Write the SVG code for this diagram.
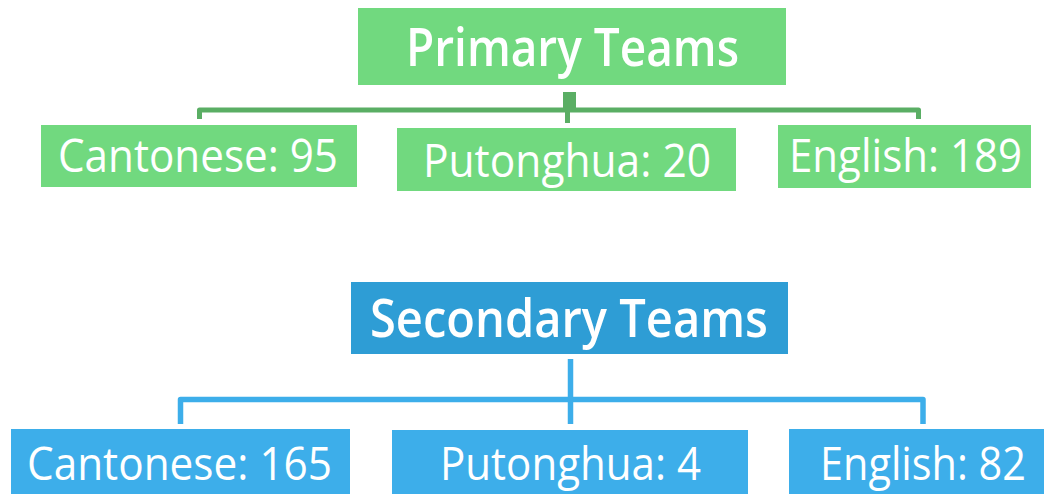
<svg xmlns="http://www.w3.org/2000/svg" width="1048" height="494" viewBox="0 0 1048 494">
<style>
.g{fill:#71D97F}
.b1{fill:#2E9DD5}
.b2{fill:#3DAEEA}
text{fill:#ffffff;font-family:"Open Sans","Noto Sans","DejaVu Sans",sans-serif}
.h{font-size:52px;font-weight:600}
.t{font-size:46px;font-weight:400}
.cg{stroke:#5AAE64;stroke-width:5;fill:none;stroke-linejoin:round}
.cb{stroke:#3DAEEA;stroke-width:5.5;fill:none;stroke-linejoin:round}
</style>
<rect width="1048" height="494" fill="#ffffff"/>
<g id="connectors">
<path class="cg" d="M199.5,119 V110 H918.5 V119"/>
<path class="cg" d="M567.5,110 V123"/>
<rect x="563" y="92" width="13" height="16" fill="#5AAE64"/>
<path class="cb" d="M180.5,424 V399.5 H923 V424"/>
<path class="cb" d="M570.5,359 V424"/>
</g>
<g id="primary">
<rect class="g" x="358" y="8" width="428" height="77"/>
<text class="h" x="406" y="66" textLength="333" lengthAdjust="spacingAndGlyphs">Primary Teams</text>
</g>
<g id="p-cantonese">
<rect class="g" x="41" y="125" width="316" height="62"/>
<text class="t" x="58" y="172" textLength="280" lengthAdjust="spacingAndGlyphs">Cantonese: 95</text>
</g>
<g id="p-putonghua">
<rect class="g" x="397" y="128" width="339" height="63"/>
<text class="t" x="423" y="176.5" textLength="288" lengthAdjust="spacingAndGlyphs">Putonghua: 20</text>
</g>
<g id="p-english">
<rect class="g" x="778" y="125" width="253" height="63"/>
<text class="t" x="789" y="172" textLength="233" lengthAdjust="spacingAndGlyphs">English: 189</text>
</g>
<g id="secondary">
<rect class="b1" x="351" y="282" width="437" height="72"/>
<text class="h" x="370" y="336.5" textLength="398" lengthAdjust="spacingAndGlyphs">Secondary Teams</text>
</g>
<g id="s-cantonese">
<rect class="b2" x="11" y="429" width="339" height="70"/>
<text class="t" x="27" y="480" textLength="305" lengthAdjust="spacingAndGlyphs">Cantonese: 165</text>
</g>
<g id="s-putonghua">
<rect class="b2" x="392" y="430" width="356" height="69"/>
<text class="t" x="440" y="480" textLength="261" lengthAdjust="spacingAndGlyphs">Putonghua: 4</text>
</g>
<g id="s-english">
<rect class="b2" x="789" y="429" width="255" height="70"/>
<text class="t" x="820" y="480" textLength="206" lengthAdjust="spacingAndGlyphs">English: 82</text>
</g>
</svg>
